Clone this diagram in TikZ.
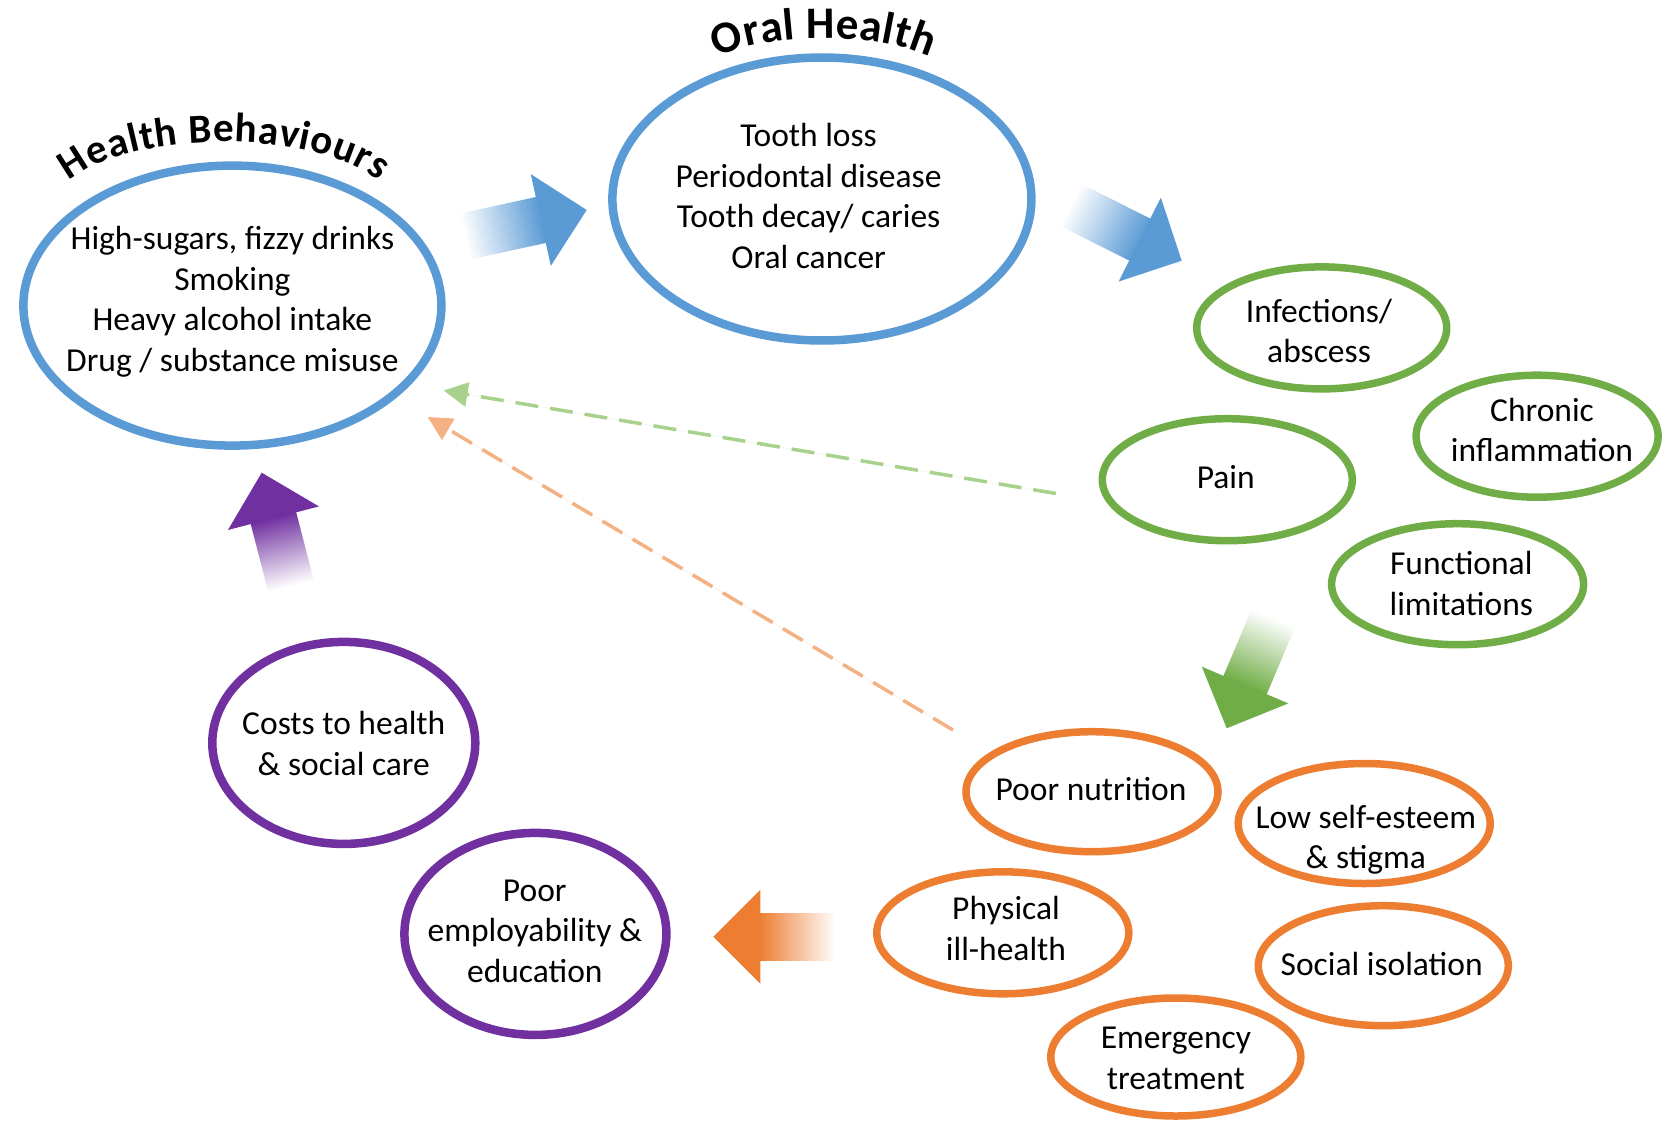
\documentclass[tikz,border=0pt]{standalone}
\usepackage{fontspec}
\setmainfont{Carlito}
\usetikzlibrary{shapes.geometric,arrows.meta,decorations.text}
\definecolor{hblue}{HTML}{5B9BD5}
\definecolor{hgreen}{HTML}{70AD47}
\definecolor{horange}{HTML}{ED7D31}
\definecolor{hpurple}{HTML}{7030A0}
\definecolor{lgreen}{HTML}{A9D18E}
\definecolor{lorange}{HTML}{F4B183}

% fading block arrow: tip x, tip y, direction, shaft length, colour
\newcommand{\fadearrow}[5]{%
  \begin{scope}[transform canvas={shift={(#1,#2)},rotate=#3}]
    \shade[left color=white, right color=#5] (-47-#4,-23.5) rectangle (-46,23.5);
    \fill[#5] (-47,-47) -- (0,0) -- (-47,47) -- cycle;
  \end{scope}}

\begin{document}
\begin{tikzpicture}[x=1pt,y=1pt,
  ring/.style={ellipse, draw, inner sep=0pt, outer sep=0pt},
  bluering/.style={ring, draw=hblue, line width=8.5pt},
  greenring/.style={ring, draw=hgreen, line width=7.5pt},
  orangering/.style={ring, draw=horange, line width=7.5pt},
  purplering/.style={ring, draw=hpurple, line width=8.5pt},
  txt/.style={align=center, inner sep=0pt, font=\fontsize{33.5}{40.5}\selectfont},
  backlink/.style={dash pattern=on 23pt off 12pt, line width=3.5pt,
    -{Triangle[length=24pt,width=24pt]}}]
\useasboundingbox (0,0) rectangle (1664,-1123);

% ---- health behaviours and oral health
\node[bluering, minimum width=418pt, minimum height=280pt] (hb) at (232.4,-305.6) {};
\node[txt] (hbT) at (232.4,-301.9) {High-sugars, fizzy drinks\\Smoking\\Heavy alcohol intake\\Drug / substance misuse};
\node[bluering, minimum width=419pt, minimum height=283pt] (oh) at (821.9,-199) {};
\node[txt] (ohT) at (808.6,-195.8) {Tooth loss\\Periodontal disease\\Tooth decay/ caries\\Oral cancer};

\path[decorate, decoration={text along path, text align=fit to path,
  text={|\fontsize{41}{41}\selectfont\bfseries|Health Behaviours}}]
  (69.3,-181.2) arc[start angle=155.5, end angle=24.5, x radius=170, y radius=67];
\path[decorate, decoration={text along path, text align=fit to path,
  text={|\fontsize{45}{45}\selectfont\bfseries|Oral Health}}]
  (717,-57) arc[start angle=139.2, end angle=40.8, x radius=141, y radius=54.8];

% ---- direct effects
\node[greenring, minimum width=250pt, minimum height=122pt] (inf) at (1321.7,-327.9) {};
\node[txt] (infT) at (1319,-331) {Infections/\\abscess};
\node[greenring, minimum width=242pt, minimum height=122pt] (chr) at (1537.1,-436.2) {};
\node[txt] (chrT) at (1542,-429.8) {Chronic\\inflammation};
\node[greenring, minimum width=250pt, minimum height=122pt] (pain) at (1227.3,-479.7) {};
\node[txt] (painT) at (1225.7,-477.5) {Pain};
\node[greenring, minimum width=252pt, minimum height=121pt] (func) at (1457.6,-584.2) {};
\node[txt] (funcT) at (1461.3,-583.7) {Functional\\limitations};

% ---- wider consequences
\node[orangering, minimum width=252pt, minimum height=120pt] (nut) at (1092,-791.7) {};
\node[txt] (nutT) at (1091,-789.5) {Poor nutrition};
\node[orangering, minimum width=252pt, minimum height=120pt] (low) at (1364.2,-823.5) {};
\node[txt] (lowT) at (1365.8,-839.5) {Low self-esteem\\\& stigma};
\node[orangering, minimum width=252pt, minimum height=122pt] (phys) at (1002.8,-932.8) {};
\node[txt] (physT) at (1006,-928.6) {Physical\\ill-health};
\node[orangering, minimum width=250pt, minimum height=120pt] (soc) at (1383.3,-965.7) {};
\node[txt] (socT) at (1381.7,-963.6) {Social isolation};
\node[orangering, minimum width=250pt, minimum height=118pt] (emg) at (1175.8,-1057) {};
\node[txt] (emgT) at (1175.8,-1058.5) {Emergency\\treatment};

% ---- societal costs
\node[purplering, minimum width=263pt, minimum height=202pt] (cost) at (343.8,-742.9) {};
\node[txt] (costT) at (343.8,-743.4) {Costs to health\\\& social care};
\node[purplering, minimum width=262pt, minimum height=202pt] (emp) at (535.4,-933.9) {};
\node[txt] (empT) at (534.8,-931.2) {Poor\\employability \&\\education};

% ---- cycle arrows
\fadearrow{586.7}{-210}{12.3}{78}{hblue}
\fadearrow{1181.7}{-260.7}{-26.7}{78}{hblue}
\fadearrow{1226.7}{-728.3}{-113}{73}{hgreen}
\fadearrow{713.3}{-936.7}{180}{75}{horange}
\fadearrow{261.7}{-472.7}{104.5}{70}{hpurple}

% ---- feedback links
\coordinate (gFrom) at (1055.9,-493.5);
\coordinate (gTo) at (443.6,-390.5);
\coordinate (oFrom) at (953,-730);
\coordinate (oTo) at (427.7,-417);
\draw[backlink, draw=lgreen, fill=lgreen] (gFrom) -- (gTo);
\draw[backlink, draw=lorange, fill=lorange] (oFrom) -- (oTo);
\end{tikzpicture}
\end{document}
